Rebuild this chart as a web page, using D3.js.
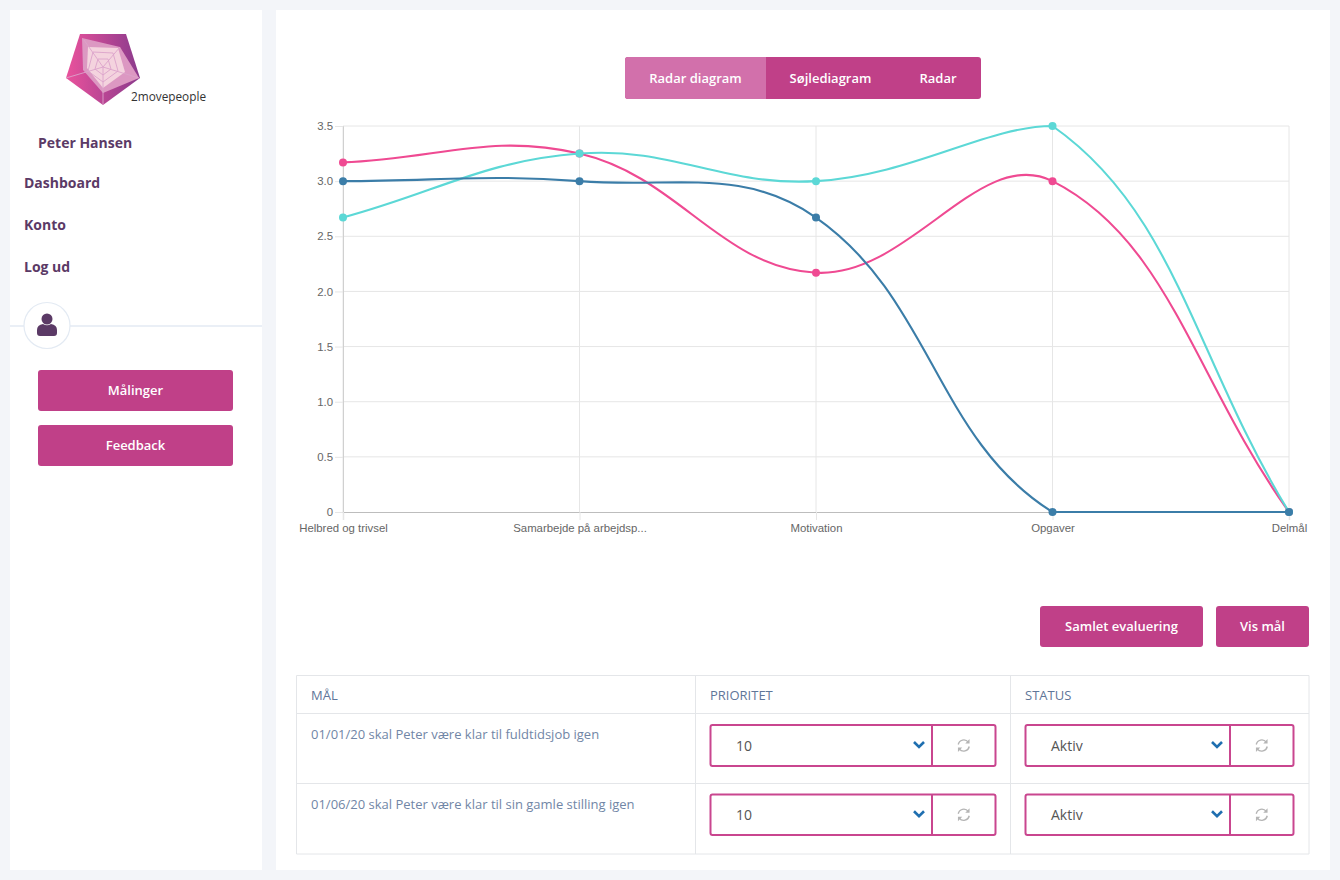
<!DOCTYPE html>
<html>
<head>
<meta charset="utf-8">
<title>2movepeople</title>
<script src="https://cdnjs.cloudflare.com/ajax/libs/d3/7.8.5/d3.min.js"></script>
<style>
  html, body { margin: 0; padding: 0; background: #f3f5f9; }
  svg { display: block; }
  text { font-family: "Open Sans", sans-serif; }
  .axis text { font-family: "Liberation Sans", Arial, sans-serif; font-size: 11.4px; fill: #666; }
</style>
</head>
<body>
<svg id="page" width="1340" height="880"></svg>
<script>
const categories = ["Helbred og trivsel", "Samarbejde på arbejdsp...", "Motivation", "Opgaver", "Delmål"];
const pinkValues = [3.17, 3.25, 2.17, 3.0, 0];
const cyanValues = [2.67, 3.25, 3.0, 3.5, 0];
const blueValues = [3.0, 3.0, 2.67, 0, 0];
const yTicks = [0, 0.5, 1, 1.5, 2, 2.5, 3, 3.5];

const menuItems = ["Dashboard", "Konto", "Log ud"];
const tabLabels = ["Radar diagram", "Søjlediagram", "Radar"];
const tableHeaders = ["MÅL", "PRIORITET", "STATUS"];
const goals = ["01/01/20 skal Peter være klar til fuldtidsjob igen", "01/06/20 skal Peter være klar til sin gamle stilling igen"];
const priorities = ["10", "10"];
const statuses = ["Aktiv", "Aktiv"];

const magenta = "#c04088";
const plum = "#5b3a66";

const svg = d3.select("#page");

// white panels
svg.append("rect").attr("x", 10).attr("y", 10).attr("width", 252).attr("height", 860).attr("fill", "#fff");
svg.append("rect").attr("x", 276).attr("y", 10).attr("width", 1054).attr("height", 860).attr("fill", "#fff");

function button(x, y, w, h, label) {
  svg.append("rect").attr("x", x).attr("y", y).attr("width", w).attr("height", h).attr("rx", 3).attr("fill", magenta);
  svg.append("text").attr("x", x + w / 2).attr("y", y + h / 2 + 4.5).attr("text-anchor", "middle")
    .attr("fill", "#fff").attr("font-size", 13).attr("font-weight", 600).text(label);
}

// logo
const defs = svg.append("defs");
const grad = defs.append("linearGradient").attr("id", "logoGrad");
grad.append("stop").attr("offset", "0%").attr("stop-color", "#ea529c");
grad.append("stop").attr("offset", "100%").attr("stop-color", "#8a3a8c");

const logo = svg.append("g");
const poly = (pts, fill) => logo.append("polygon").attr("points", pts.join(" ")).attr("fill", fill);
poly([[80, 34], [126, 34], [140, 78], [103, 105], [66, 78]], "url(#logoGrad)");
poly([[82, 38], [120, 47], [139, 78], [103, 93], [83, 70]], "#dc98c2");
poly([[88, 47], [118, 48], [125, 72], [103, 88], [87, 68]], "#f4d3de");
const hub = [103, 67];
[[84, 40], [120, 47], [139, 78], [103, 105], [66, 78]].forEach(p => {
  logo.append("line").attr("x1", hub[0]).attr("y1", hub[1]).attr("x2", p[0]).attr("y2", p[1])
    .attr("stroke", "#dba3cb").attr("stroke-width", 0.9);
});
[[[93, 52], [113, 53], [118, 71], [103, 82], [88, 71]], [[98, 59], [108, 59], [111, 69], [103, 75], [95, 69]]].forEach(r => {
  logo.append("polygon").attr("points", r.join(" ")).attr("fill", "none").attr("stroke", "#dba3cb").attr("stroke-width", 0.9);
});
svg.append("text").attr("x", 131).attr("y", 101).attr("font-family", "Lato, sans-serif").attr("font-size", 11.8).attr("fill", "#333").text("2movepeople");

// sidebar
const navStyle = s => s.attr("fill", plum).attr("font-size", 14).attr("font-weight", 700);
svg.append("text").attr("x", 38).attr("y", 148).call(navStyle).text("Peter Hansen");
svg.selectAll(".nav").data(menuItems).join("text").attr("class", "nav")
  .attr("x", 24).attr("y", (d, i) => 188 + i * 42).call(navStyle).text(d => d);

svg.append("line").attr("x1", 10).attr("x2", 262).attr("y1", 326).attr("y2", 326).attr("stroke", "#e3eaf3").attr("stroke-width", 1.5);
svg.append("circle").attr("cx", 47).attr("cy", 325.5).attr("r", 23).attr("fill", "#fff").attr("stroke", "#e3eaf3").attr("stroke-width", 1.2);
svg.append("circle").attr("cx", 47).attr("cy", 319).attr("r", 5.5).attr("fill", plum);
svg.append("path").attr("d", "M37,333 v-3 q0,-5 6,-6 q4,2.500 8,0 q6,1 6,6 v3 q0,3 -3,3 h-14 q-3,0 -3,-3 z").attr("fill", plum);

button(38, 370, 195, 41, "Målinger");
button(38, 425, 195, 41, "Feedback");

// tabs
svg.append("rect").attr("x", 625).attr("y", 57).attr("width", 356).attr("height", 42).attr("rx", 3).attr("fill", magenta);
svg.append("path").attr("d", "M766,57 H628 a3,3 0 0 0 -3,3 V96 a3,3 0 0 0 3,3 H766 z").attr("fill", "#d270ab");
svg.selectAll(".tab").data(tabLabels).join("text").attr("class", "tab")
  .attr("x", (d, i) => [695.5, 830.5, 938][i]).attr("y", 83).attr("text-anchor", "middle")
  .attr("fill", "#fff").attr("font-size", 13).attr("font-weight", 600).text(d => d);

// chart
const x = d3.scalePoint().domain(categories).range([343, 1289]);
const y = d3.scaleLinear().domain([0, 3.5]).range([512, 126]);

svg.append("g").selectAll("line").data(yTicks.slice(1)).join("line")
  .attr("x1", 343).attr("x2", 1289).attr("y1", d => y(d)).attr("y2", d => y(d)).attr("stroke", "#e6e6e6");
svg.append("g").selectAll("line").data(categories).join("line")
  .attr("x1", d => x(d)).attr("x2", d => x(d)).attr("y1", 126).attr("y2", 512).attr("stroke", "#e6e6e6");

const yAxis = svg.append("g").attr("class", "axis").attr("transform", "translate(343,0)")
  .call(d3.axisLeft(y).tickValues(yTicks).tickSize(8).tickPadding(2).tickFormat(d => d === 0 ? "0" : d3.format(".1f")(d)));
yAxis.selectAll("line").attr("stroke", "#e6e6e6");
yAxis.select(".domain").attr("stroke", "#d0d0d0");

const xAxis = svg.append("g").attr("class", "axis").attr("transform", "translate(0,512)")
  .call(d3.axisBottom(x).tickSize(8).tickPadding(4));
xAxis.selectAll("line").attr("stroke", "#e6e6e6");
xAxis.select(".domain").attr("stroke", "#bdbdbd").attr("stroke-width", 1.2);

// same bezier as the chart.js line, control points capped to the plot area
function splineCurve(context) {
  let pts = [];
  return {
    areaStart() {}, areaEnd() {},
    lineStart() { pts = []; },
    point(px, py) { pts.push([px, py]); },
    lineEnd() {
      const t = 0.4;
      const capX = v => Math.max(343, Math.min(1289, v));
      const capY = v => Math.max(126, Math.min(512, v));
      const ctrl = pts.map((c, i) => {
        const p = pts[i - 1] || c, n = pts[i + 1] || c;
        const d01 = Math.hypot(c[0] - p[0], c[1] - p[1]);
        const d12 = Math.hypot(n[0] - c[0], n[1] - c[1]);
        const s01 = d01 / (d01 + d12), s12 = d12 / (d01 + d12);
        return {
          before: [capX(c[0] - t * s01 * (n[0] - p[0])), capY(c[1] - t * s01 * (n[1] - p[1]))],
          after: [capX(c[0] + t * s12 * (n[0] - p[0])), capY(c[1] + t * s12 * (n[1] - p[1]))]
        };
      });
      pts.forEach((c, i) => {
        if (i === 0) context.moveTo(c[0], c[1]);
        else context.bezierCurveTo(ctrl[i - 1].after[0], ctrl[i - 1].after[1], ctrl[i].before[0], ctrl[i].before[1], c[0], c[1]);
      });
    }
  };
}

const line = d3.line().x((d, i) => x(categories[i])).y(d => y(d)).curve(splineCurve);

[[pinkValues, "#ef4a92"], [cyanValues, "#5cd8d6"], [blueValues, "#3b7da8"]].forEach(([values, color]) => {
  svg.append("path").datum(values).attr("d", line).attr("fill", "none").attr("stroke", color).attr("stroke-width", 2.1);
  svg.append("g").selectAll("circle").data(values).join("circle")
    .attr("cx", (d, i) => x(categories[i])).attr("cy", d => y(d)).attr("r", 4).attr("fill", color);
});

button(1040, 606, 163, 41, "Samlet evaluering");
button(1216, 606, 93, 41, "Vis mål");

// table
const tableLine = "#e4e6e9";
const colX = [296.5, 695.5, 1010.5, 1309];
const rowY = [675.5, 713.5, 783.5, 854];
svg.append("g").selectAll("line").data(colX).join("line")
  .attr("x1", d => d).attr("x2", d => d).attr("y1", rowY[0]).attr("y2", rowY[3]).attr("stroke", tableLine);
svg.append("g").selectAll("line").data(rowY).join("line")
  .attr("x1", colX[0]).attr("x2", colX[3]).attr("y1", d => d).attr("y2", d => d).attr("stroke", tableLine);

svg.selectAll(".th").data(tableHeaders).join("text").attr("class", "th")
  .attr("x", (d, i) => [311, 710, 1025][i]).attr("y", 699.5)
  .attr("fill", "#5f7699").attr("font-size", 13).text(d => d);

svg.selectAll(".goal").data(goals).join("text").attr("class", "goal")
  .attr("x", 311).attr("y", (d, i) => [739, 809][i])
  .attr("fill", "#7186a6").attr("font-size", 13).text(d => d);

function refreshIcon(cx, cy) {
  const g = svg.append("g").attr("transform", `translate(${cx},${cy})`).attr("fill", "none").attr("stroke", "#b5b5b5").attr("stroke-width", 1.4);
  g.append("path").attr("d", "M-5.500,-1 A5.600,5.600 0 0 1 4.500,-3.300");
  g.append("path").attr("d", "M5.500,1 A5.600,5.600 0 0 1 -4.500,3.300");
  g.append("path").attr("d", "M5.800,-6.500 V-2 H1.500 z").attr("fill", "#b5b5b5").attr("stroke", "none");
  g.append("path").attr("d", "M-5.800,6.500 V2 H-1.500 z").attr("fill", "#b5b5b5").attr("stroke", "none");
}

function selectBox(left, divider, right, top, bottom, label) {
  svg.append("rect").attr("x", left).attr("y", top).attr("width", right - left).attr("height", bottom - top).attr("rx", 2)
    .attr("fill", "#fff").attr("stroke", "#c9468f").attr("stroke-width", 2);
  svg.append("line").attr("x1", divider).attr("x2", divider).attr("y1", top).attr("y2", bottom).attr("stroke", "#c9468f").attr("stroke-width", 2);
  svg.append("text").attr("x", left + 25.5).attr("y", (top + bottom) / 2 + 5.5).attr("fill", "#555").attr("font-size", 14).text(label);
  const cx = divider - 13, cy = (top + bottom) / 2 - 1;
  svg.append("polyline").attr("points", [[cx - 5, cy - 2.5], [cx, cy + 2.5], [cx + 5, cy - 2.5]].join(" "))
    .attr("fill", "none").attr("stroke", "#1f6fb0").attr("stroke-width", 2.6);
  refreshIcon((divider + right) / 2, (top + bottom) / 2);
}

const boxTop = [725, 794.5], boxBottom = [766, 835];
priorities.forEach((d, i) => selectBox(710.5, 932, 995.5, boxTop[i], boxBottom[i], d));
statuses.forEach((d, i) => selectBox(1025.5, 1230, 1293.5, boxTop[i], boxBottom[i], d));
</script>
</body>
</html>
